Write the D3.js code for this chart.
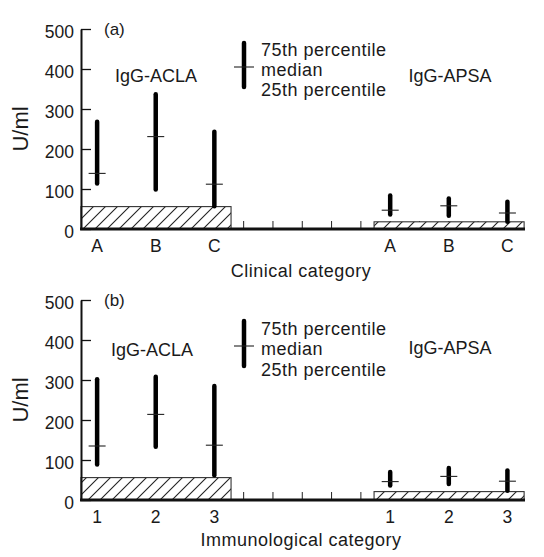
<!DOCTYPE html>
<html>
<head>
<meta charset="utf-8">
<script src="https://cdn.jsdelivr.net/npm/d3@7"></script>
<style>
  html, body { margin: 0; padding: 0; background: #fff; }
  svg { display: block; font-family: "Liberation Sans", Arial, Helvetica, sans-serif; }
  text { fill: #1a1a1a; }
</style>
</head>
<body>
<svg id="chart" width="544" height="557"></svg>
<script>
// ---------------- DATA ----------------
const clinicalCategories = ["A", "B", "C"];
const immunoCategories = ["1", "2", "3"];
const yTicks = [0, 100, 200, 300, 400, 500];

// Panel (a): clinical category
const a_acla_p75 = [268, 337, 243];
const a_acla_med = [139, 231, 112];
const a_acla_p25 = [114, 99, 57];
const a_apsa_p75 = [84, 76, 68];
const a_apsa_med = [47, 58, 40];
const a_apsa_p25 = [36, 33, 18];
const a_acla_normal = 56;
const a_apsa_normal = 18;

// Panel (b): immunological category
const b_acla_p75 = [302, 308, 285];
const b_acla_med = [135, 214, 137];
const b_acla_p25 = [89, 133, 62];
const b_apsa_p75 = [70, 80, 74];
const b_apsa_med = [46, 59, 47];
const b_apsa_p25 = [36, 40, 23];
const b_acla_normal = 56;
const b_apsa_normal = 21;

const groupNames = ["IgG-ACLA", "IgG-APSA"];
const legendLabels = ["75th percentile", "median", "25th percentile"];

// ---------------- LAYOUT ----------------
const svg = d3.select("#chart");
const x = d3.scaleLinear().domain([-0.55, 14.6]).range([81, 525]);
const groupStart = [0, 10];   // index of first category of each group
const step = 2;               // index step between categories

const defs = svg.append("defs");
const pat = defs.append("pattern")
  .attr("id", "hatch").attr("patternUnits", "userSpaceOnUse")
  .attr("width", 12).attr("height", 12);
pat.append("rect").attr("width", 12).attr("height", 12).attr("fill", "#fff");
pat.append("path").attr("d", "M-3,3 L3,-3 M0,12 L12,0 M9,15 L15,9")
  .attr("stroke", "#222").attr("stroke-width", 1.1);

const panels = [
  { tag: "(a)", y0: 229, y1: 29, cats: clinicalCategories, title: "Clinical category",
    titleY: 277, catY: 252,
    acla: [a_acla_p75, a_acla_med, a_acla_p25], apsa: [a_apsa_p75, a_apsa_med, a_apsa_p25],
    normals: [a_acla_normal, a_apsa_normal],
    groupY: [82, 82], groupX: [156, 450],
    legTop: 43, legBot: 87, legMed: 67, legTextY: [55.5, 75.5, 95.5] },
  { tag: "(b)", y0: 500, y1: 300, cats: immunoCategories, title: "Immunological category",
    titleY: 546, catY: 523,
    acla: [b_acla_p75, b_acla_med, b_acla_p25], apsa: [b_apsa_p75, b_apsa_med, b_apsa_p25],
    normals: [b_acla_normal, b_apsa_normal],
    groupY: [356, 354], groupX: [152, 450],
    legTop: 321, legBot: 366, legMed: 346, legTextY: [335, 355, 375.5] }
];

panels.forEach(p => {
  const g = svg.append("g");
  const y = d3.scaleLinear().domain([0, 500]).range([p.y0, p.y1]);

  // x tick marks (upward)
  const tickIdx = d3.range(0, 15);
  g.selectAll(".xt").data(tickIdx).join("line")
    .attr("x1", d => x(d)).attr("x2", d => x(d))
    .attr("y1", y(0)).attr("y2", y(0) - 8)
    .attr("stroke", "#222").attr("stroke-width", 1);

  // hatched reference (normal range) bars
  p.normals.forEach((v, gi) => {
    const s = groupStart[gi];
    const xl = x(s - 0.55), xr = x(s + 2 * step + 0.57);
    g.append("rect")
      .attr("x", xl).attr("y", y(v))
      .attr("width", xr - xl).attr("height", y(0) - y(v))
      .attr("fill", "url(#hatch)").attr("stroke", "#333").attr("stroke-width", 1.1);
  });

  // y axis
  const yAxis = d3.axisLeft(y).tickValues(yTicks).tickSizeInner(-10).tickSizeOuter(0).tickPadding(7);
  const ya = g.append("g").attr("transform", `translate(${x(-0.55)},0)`).call(yAxis);
  ya.select(".domain").attr("stroke", "#111").attr("stroke-width", 2);
  ya.selectAll(".tick line").attr("stroke", "#111").attr("stroke-width", 1.3);
  ya.selectAll(".tick text").attr("font-size", 17.5).attr("dy", null).attr("y", 8)
    .attr("fill", "#1a1a1a").style("font-family", "'Liberation Sans', Arial, sans-serif");

  // x axis line
  g.append("line").attr("x1", x(-0.55) - 1).attr("x2", x(14.6))
    .attr("y1", y(0)).attr("y2", y(0))
    .attr("stroke", "#111").attr("stroke-width", 3);

  // category labels
  [0, 1].forEach(gi => {
    g.selectAll(null).data(p.cats).join("text")
      .attr("x", (d, i) => x(groupStart[gi] + i * step))
      .attr("y", p.catY)
      .attr("text-anchor", "middle").attr("font-size", 17.5)
      .text(d => d);
  });

  // percentile bars
  [p.acla, p.apsa].forEach((ser, gi) => {
    const [p75, med, p25] = ser;
    p.cats.forEach((c, i) => {
      const cx = x(groupStart[gi] + i * step);
      g.append("line").attr("x1", cx).attr("x2", cx)
        .attr("y1", y(p75[i])).attr("y2", y(p25[i]))
        .attr("stroke", "#000").attr("stroke-width", 4.5).attr("stroke-linecap", "round");
      g.append("line").attr("x1", cx - 8.5).attr("x2", cx + 8.5)
        .attr("y1", y(med[i])).attr("y2", y(med[i]))
        .attr("stroke", "#222").attr("stroke-width", 1.1);
    });
  });

  // group names
  groupNames.forEach((n, gi) => {
    g.append("text").attr("x", p.groupX[gi]).attr("y", p.groupY[gi])
      .attr("text-anchor", "middle").attr("font-size", 18).text(n);
  });

  // panel tag
  g.append("text").attr("x", 104).attr("y", p.y1 + 6).attr("font-size", 17).text(p.tag);

  // legend
  g.append("line").attr("x1", 244).attr("x2", 244).attr("y1", p.legTop).attr("y2", p.legBot)
    .attr("stroke", "#000").attr("stroke-width", 4.5).attr("stroke-linecap", "round");
  g.append("line").attr("x1", 234).attr("x2", 254).attr("y1", p.legMed).attr("y2", p.legMed)
    .attr("stroke", "#222").attr("stroke-width", 1.1);
  legendLabels.forEach((t, k) => {
    g.append("text").attr("x", 261).attr("y", p.legTextY[k])
      .attr("font-size", 18).attr("letter-spacing", 0.5).text(t);
  });

  // y title
  const yc = (p.y0 + p.y1) / 2;
  g.append("text").attr("transform", `translate(28,${yc}) rotate(-90)`)
    .attr("text-anchor", "middle").attr("font-size", 22).text("U/ml");

  // x title
  g.append("text").attr("x", 301).attr("y", p.titleY)
    .attr("text-anchor", "middle").attr("font-size", 18).attr("letter-spacing", 0.5).text(p.title);
});
</script>
</body>
</html>
